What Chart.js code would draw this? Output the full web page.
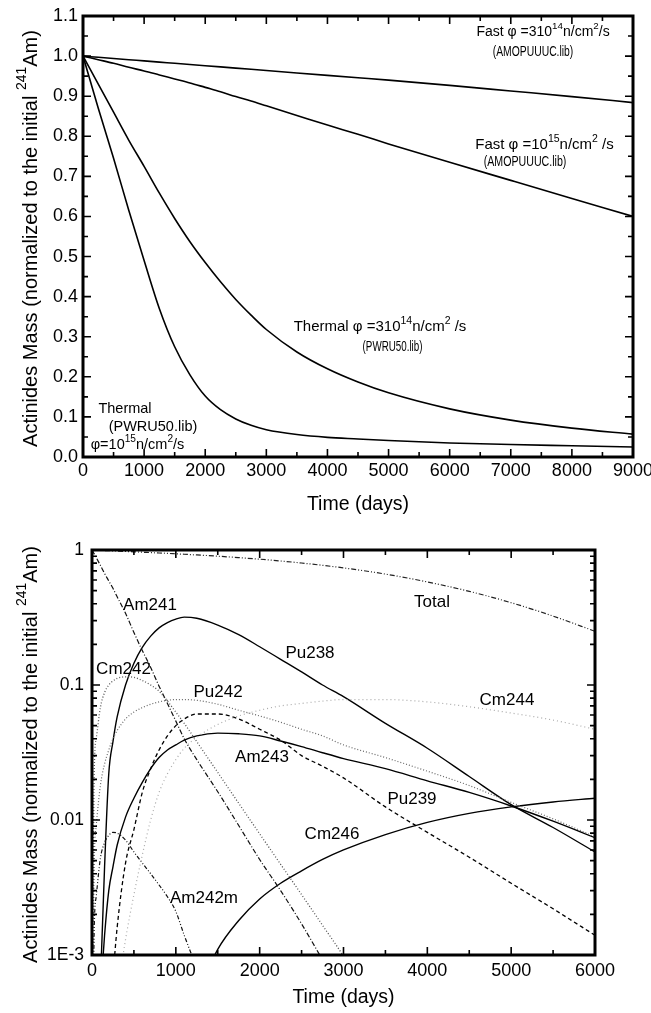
<!DOCTYPE html>
<html>
<head>
<meta charset="utf-8">
<script src="https://cdn.jsdelivr.net/npm/chart.js@4.4.1/dist/chart.umd.min.js"></script>
<style>
  html, body { margin: 0; padding: 0; background: #fff; }
  #wrap { position: relative; width: 651px; height: 1013px; }
  .panel { position: absolute; left: 0; width: 651px; }
  #topPanel { top: 0; height: 515px; }
  #bottomPanel { top: 515px; height: 498px; }
</style>
</head>
<body>
<div id="wrap">
  <div class="panel" id="topPanel"><canvas id="burnChart"></canvas></div>
  <div class="panel" id="bottomPanel"><canvas id="nuclideChart"></canvas></div>
</div>
<script>
// ── upper panel: total actinide mass for four irradiation cases ──
const burnDays    = [0, 250, 500, 750, 1000, 1250, 1500, 1750, 2000, 2250, 2500, 2750, 3000, 3500, 4000, 4500, 5000, 6000, 7000, 8000, 9000];
const fast3e14    = [1.0, 0.997, 0.994, 0.991, 0.988, 0.985, 0.982, 0.979, 0.976, 0.973, 0.970, 0.967, 0.964, 0.958, 0.952, 0.946, 0.940, 0.927, 0.913, 0.899, 0.884];
const fast1e15    = [1.0, 0.991, 0.982, 0.972, 0.963, 0.953, 0.943, 0.933, 0.922, 0.911, 0.899, 0.888, 0.876, 0.852, 0.828, 0.805, 0.781, 0.735, 0.690, 0.645, 0.600];
const thermal3e14 = [1.0, 0.93, 0.86, 0.79, 0.725, 0.658, 0.595, 0.537, 0.485, 0.437, 0.393, 0.354, 0.318, 0.262, 0.22, 0.187, 0.16, 0.12, 0.092, 0.072, 0.057];
const thermal1e15 = [1.0, 0.87, 0.745, 0.615, 0.49, 0.37, 0.275, 0.205, 0.152, 0.118, 0.095, 0.079, 0.068, 0.056, 0.049, 0.045, 0.041, 0.035, 0.031, 0.028, 0.025];
const topXTicks   = [0, 1000, 2000, 3000, 4000, 5000, 6000, 7000, 8000, 9000];
const topYTicks   = [0, 0.1, 0.2, 0.3, 0.4, 0.5, 0.6, 0.7, 0.8, 0.9, 1.0, 1.1];

// ── lower panel: nuclide inventory (log scale) ──
const days   = [0, 25, 50, 100, 150, 200, 250, 300, 400, 500, 600, 700, 800, 900, 1000, 1100, 1250, 1500, 1750, 2000, 2250, 2500, 2750, 3000, 3500, 4000, 4500, 5000, 5500, 6000];
const total  = [1.0, 0.9985, 0.997, 0.994, 0.991, 0.988, 0.985, 0.982, 0.976, 0.970, 0.963, 0.957, 0.950, 0.944, 0.937, 0.930, 0.919, 0.900, 0.878, 0.855, 0.829, 0.801, 0.770, 0.737, 0.663, 0.580, 0.494, 0.407, 0.324, 0.250];
const am241  = [1.0, 0.94, 0.88, 0.77, 0.67, 0.59, 0.52, 0.45, 0.34, 0.245, 0.18, 0.135, 0.098, 0.073, 0.054, 0.04, 0.028, 0.0162, 0.0091, 0.0051, 0.003, 0.0017, 0.00092, 0.0005, null, null, null, null, null, null];
const cm242  = [0.00001, 0.02, 0.04, 0.068, 0.088, 0.1, 0.107, 0.112, 0.115, 0.114, 0.108, 0.1, 0.09, 0.076, 0.063, 0.052, 0.038, 0.0225, 0.0133, 0.0079, 0.0047, 0.0028, 0.00166, 0.00098, 0.0003, null, null, null, null, null];
const pu238  = [null, null, null, 0.0006, 0.0045, 0.022, 0.038, 0.058, 0.1, 0.145, 0.19, 0.23, 0.265, 0.29, 0.308, 0.318, 0.312, 0.278, 0.236, 0.192, 0.155, 0.125, 0.1, 0.082, 0.052, 0.034, 0.021, 0.013, 0.0088, 0.0058];
const pu242  = [0.00001, 0.004, 0.009, 0.018, 0.026, 0.033, 0.04, 0.046, 0.056, 0.063, 0.068, 0.072, 0.075, 0.077, 0.078, 0.078, 0.077, 0.072, 0.065, 0.059, 0.053, 0.047, 0.042, 0.036, 0.029, 0.023, 0.018, 0.0135, 0.0102, 0.0075];
const am243  = [null, null, null, 0.0005, 0.0014, 0.003, 0.0045, 0.0065, 0.0105, 0.0145, 0.019, 0.024, 0.029, 0.033, 0.036, 0.039, 0.042, 0.044, 0.0435, 0.042, 0.0385, 0.035, 0.0315, 0.0285, 0.024, 0.0195, 0.016, 0.0127, 0.0098, 0.0074];
const pu239  = [null, null, null, null, null, null, 0.0007, 0.0016, 0.0048, 0.0085, 0.016, 0.024, 0.033, 0.042, 0.05, 0.056, 0.061, 0.061, 0.056, 0.047, 0.039, 0.03, 0.025, 0.0205, 0.0125, 0.0081, 0.0053, 0.0034, 0.0022, 0.0014];
const cm244  = [null, null, null, null, null, null, null, 0.0005, 0.0013, 0.0028, 0.0055, 0.01, 0.016, 0.022, 0.028, 0.034, 0.041, 0.051, 0.059, 0.065, 0.07, 0.073, 0.076, 0.078, 0.078, 0.075, 0.069, 0.062, 0.055, 0.047];
const cm246  = [null, null, null, null, null, null, null, null, null, null, null, null, null, null, null, null, 0.0005, 0.0011, 0.0018, 0.0026, 0.0034, 0.0042, 0.0051, 0.006, 0.0078, 0.0096, 0.0112, 0.0125, 0.0136, 0.0145];
const am242m = [0.00001, 0.0014, 0.0027, 0.0052, 0.0068, 0.0077, 0.0081, 0.008, 0.0071, 0.0058, 0.0048, 0.004, 0.0033, 0.0027, 0.0021, 0.0014, 0.0008, null, null, null, null, null, null, null, null, null, null, null, null, null];
const bottomXTicks  = [0, 1000, 2000, 3000, 4000, 5000, 6000];
const bottomYTicks  = [0.001, 0.01, 0.1, 1];
const bottomYLabels = ['1E-3', '0.01', '0.1', '1'];

// curve annotations (data coords)
const topNotes = [
  { text: 'Fast φ =310^{14}n/cm^{2}/s', t: 7528, v: 1.06, size: 14 },
  { text: '(AMOPUUUC.lib)', t: 7364, v: 1.01, size: 14, sx: 0.74 },
  { text: 'Fast φ =10^{15}n/cm^{2} /s', t: 7552, v: 0.778, size: 15 },
  { text: '(AMOPUUUC.lib)', t: 7233, v: 0.736, size: 14, sx: 0.76 },
  { text: 'Thermal φ =310^{14}n/cm^{2} /s', t: 4860, v: 0.324, size: 15 },
  { text: '(PWRU50.lib)', t: 5065, v: 0.275, size: 14, sx: 0.7 },
  { text: 'Thermal', t: 687, v: 0.12, size: 14.5 },
  { text: '(PWRU50.lib)', t: 1145, v: 0.075, size: 14.5 },
  { text: 'φ=10^{15}n/cm^{2}/s', t: 892, v: 0.03, size: 14.5 }
];
const bottomNotes = [
  { text: 'Am241', t: 692, v: 0.39 },
  { text: 'Total', t: 4056, v: 0.41 },
  { text: 'Pu238', t: 2600, v: 0.173 },
  { text: 'Cm242', t: 376, v: 0.131 },
  { text: 'Pu242', t: 1503, v: 0.0887 },
  { text: 'Cm244', t: 4950, v: 0.0774 },
  { text: 'Am243', t: 2028, v: 0.0293 },
  { text: 'Pu239', t: 3817, v: 0.0143 },
  { text: 'Cm246', t: 2863, v: 0.00787 },
  { text: 'Am242m', t: 1336, v: 0.00264 }
];

const FONT = '"Liberation Sans", Arial, Helvetica, sans-serif';
const pts = (xs, ys) => xs.map((x, i) => ({ x, y: ys[i] }));

// text with ^{..} superscripts
function drawRich(ctx, str, x, y, size, o = {}) {
  const parts = str.split(/(\^\{[^}]*\})/).filter(Boolean).map(p =>
    p.startsWith('^{') ? { t: p.slice(2, -1), sup: true } : { t: p, sup: false });
  let w = 0;
  parts.forEach(p => {
    ctx.font = (p.sup ? size * 0.7 : size) + 'px ' + FONT;
    p.w = ctx.measureText(p.t).width;
    w += p.w;
  });
  ctx.save();
  ctx.translate(x, y);
  if (o.rot) ctx.rotate(o.rot);
  ctx.scale(o.sx || 1, 1);
  ctx.fillStyle = '#000';
  ctx.textAlign = 'left';
  ctx.textBaseline = 'middle';
  let cx = -w / 2;
  parts.forEach(p => {
    ctx.font = (p.sup ? size * 0.7 : size) + 'px ' + FONT;
    ctx.fillText(p.t, cx, p.sup ? -size * 0.42 : 0);
    cx += p.w;
  });
  ctx.restore();
}

// inward ticks on all four sides, heavy box, titles, notes
function frame(opts) {
  return {
    id: 'frame',
    afterDraw(chart) {
      const { ctx, chartArea: a, scales: { x, y } } = chart;
      ctx.save();
      ctx.strokeStyle = '#000';
      ctx.lineWidth = 1.6;
      ctx.beginPath();
      opts.xMarks.forEach(([v, len]) => {
        const px = x.getPixelForValue(v);
        ctx.moveTo(px, a.bottom); ctx.lineTo(px, a.bottom - len);
        ctx.moveTo(px, a.top); ctx.lineTo(px, a.top + len);
      });
      opts.yMarks.forEach(([v, len]) => {
        const py = y.getPixelForValue(v);
        ctx.moveTo(a.left, py); ctx.lineTo(a.left + len, py);
        ctx.moveTo(a.right, py); ctx.lineTo(a.right - len, py);
      });
      ctx.stroke();
      ctx.lineWidth = 3;
      ctx.strokeRect(a.left, a.top, a.right - a.left, a.bottom - a.top);
      ctx.restore();
      opts.notes.forEach(n => drawRich(ctx, n.text, x.getPixelForValue(n.t), y.getPixelForValue(n.v), n.size || opts.noteSize, n));
      drawRich(ctx, 'Time (days)', (a.left + a.right) / 2, a.bottom + opts.xTitleGap, 19.5);
      drawRich(ctx, 'Actinides Mass (normalized to the initial ^{241}Am)', 31, (a.top + a.bottom) / 2 + 2, 20, { rot: -Math.PI / 2 });
    }
  };
}

const tickFont = { family: FONT, size: 18 };

// ── top chart ──
const topXMarks = [], topYMarks = [];
for (let t = 0; t <= 9000; t += 500) topXMarks.push([t, t % 1000 === 0 ? 8 : 5]);
for (let k = 0; k <= 22; k++) topYMarks.push([k * 0.05, k % 2 === 0 ? 8 : 5]);

const blackLine = { borderColor: '#000', borderWidth: 1.6, pointRadius: 0, cubicInterpolationMode: 'monotone', fill: false };
new Chart(document.getElementById('burnChart'), {
  type: 'line',
  data: {
    datasets: [
      { label: 'Fast 3e14', data: pts(burnDays, fast3e14), ...blackLine },
      { label: 'Fast 1e15', data: pts(burnDays, fast1e15), ...blackLine },
      { label: 'Thermal 3e14', data: pts(burnDays, thermal3e14), ...blackLine },
      { label: 'Thermal 1e15', data: pts(burnDays, thermal1e15), ...blackLine }
    ]
  },
  options: {
    responsive: true, maintainAspectRatio: false, animation: false,
    layout: { padding: { top: 16, right: 18, left: 0, bottom: 0 } },
    plugins: { legend: { display: false }, tooltip: { enabled: false } },
    scales: {
      x: {
        type: 'linear', min: 0, max: 9000,
        grid: { display: false, drawTicks: false }, border: { display: false },
        afterBuildTicks: s => { s.ticks = topXTicks.map(v => ({ value: v })); },
        afterFit: s => { s.height = 58; s.paddingLeft = 0; s.paddingRight = 0; },
        ticks: { font: tickFont, color: '#000', padding: 3, maxRotation: 0, autoSkip: false, callback: v => String(v) }
      },
      y: {
        type: 'linear', min: 0, max: 1.1,
        grid: { display: false, drawTicks: false }, border: { display: false },
        afterBuildTicks: s => { s.ticks = topYTicks.map(v => ({ value: v })); },
        afterFit: s => { s.width = 83; s.paddingTop = 0; s.paddingBottom = 0; },
        ticks: { font: tickFont, color: '#000', padding: 5, autoSkip: false, callback: v => v.toFixed(1) }
      }
    }
  },
  plugins: [frame({ xMarks: topXMarks, yMarks: topYMarks, notes: topNotes, xTitleGap: 48 })]
});

// ── bottom chart ──
const botXMarks = [], botYMarks = [];
for (let t = 0; t <= 6000; t += 500) botXMarks.push([t, t % 1000 === 0 ? 8 : 5]);
[0.001, 0.01, 0.1].forEach(d => { for (let m = 1; m <= 9; m++) botYMarks.push([m * d, m === 1 ? 8 : 5]); });
botYMarks.push([1, 8]);

const curve = (label, ys, color, dash, width) => ({
  label, data: pts(days, ys), borderColor: color, borderDash: dash, borderWidth: width || 1.3,
  pointRadius: 0, cubicInterpolationMode: 'monotone', fill: false, spanGaps: false
});

new Chart(document.getElementById('nuclideChart'), {
  type: 'line',
  data: {
    datasets: [
      curve('Cm244', cm244, '#aaaaaa', [1, 3], 1.2),
      curve('Pu242', pu242, '#666666', [1, 2], 1.2),
      curve('Cm242', cm242, '#555555', [1, 2], 1.3),
      curve('Total', total, '#222222', [5, 2, 1, 2, 1, 2], 1.2),
      curve('Am241', am241, '#111111', [5, 2, 1, 2], 1.2),
      curve('Am242m', am242m, '#111111', [4, 2, 1, 2, 1, 2], 1.2),
      curve('Pu239', pu239, '#000000', [4, 3], 1.3),
      curve('Pu238', pu238, '#000000', [], 1.4),
      curve('Am243', am243, '#000000', [], 1.4),
      curve('Cm246', cm246, '#000000', [], 1.4)
    ]
  },
  options: {
    responsive: true, maintainAspectRatio: false, animation: false,
    layout: { padding: { top: 35, right: 56, left: 0, bottom: 0 } },
    plugins: { legend: { display: false }, tooltip: { enabled: false } },
    scales: {
      x: {
        type: 'linear', min: 0, max: 6000,
        grid: { display: false, drawTicks: false }, border: { display: false },
        afterBuildTicks: s => { s.ticks = bottomXTicks.map(v => ({ value: v })); },
        afterFit: s => { s.height = 58; s.paddingLeft = 0; s.paddingRight = 0; },
        ticks: { font: tickFont, color: '#000', padding: 5, maxRotation: 0, autoSkip: false, callback: v => String(v) }
      },
      y: {
        type: 'logarithmic', min: 0.001, max: 1,
        grid: { display: false, drawTicks: false }, border: { display: false },
        afterBuildTicks: s => { s.ticks = bottomYTicks.map(v => ({ value: v })); },
        afterFit: s => { s.width = 92; s.paddingTop = 0; s.paddingBottom = 0; },
        ticks: { font: { family: FONT, size: 17.5 }, color: '#000', padding: 8, autoSkip: false,
                 callback: v => bottomYLabels[bottomYTicks.indexOf(v)] }
      }
    }
  },
  plugins: [frame({ xMarks: botXMarks, yMarks: botYMarks, notes: bottomNotes, noteSize: 17, xTitleGap: 43 })]
});
</script>
</body>
</html>
